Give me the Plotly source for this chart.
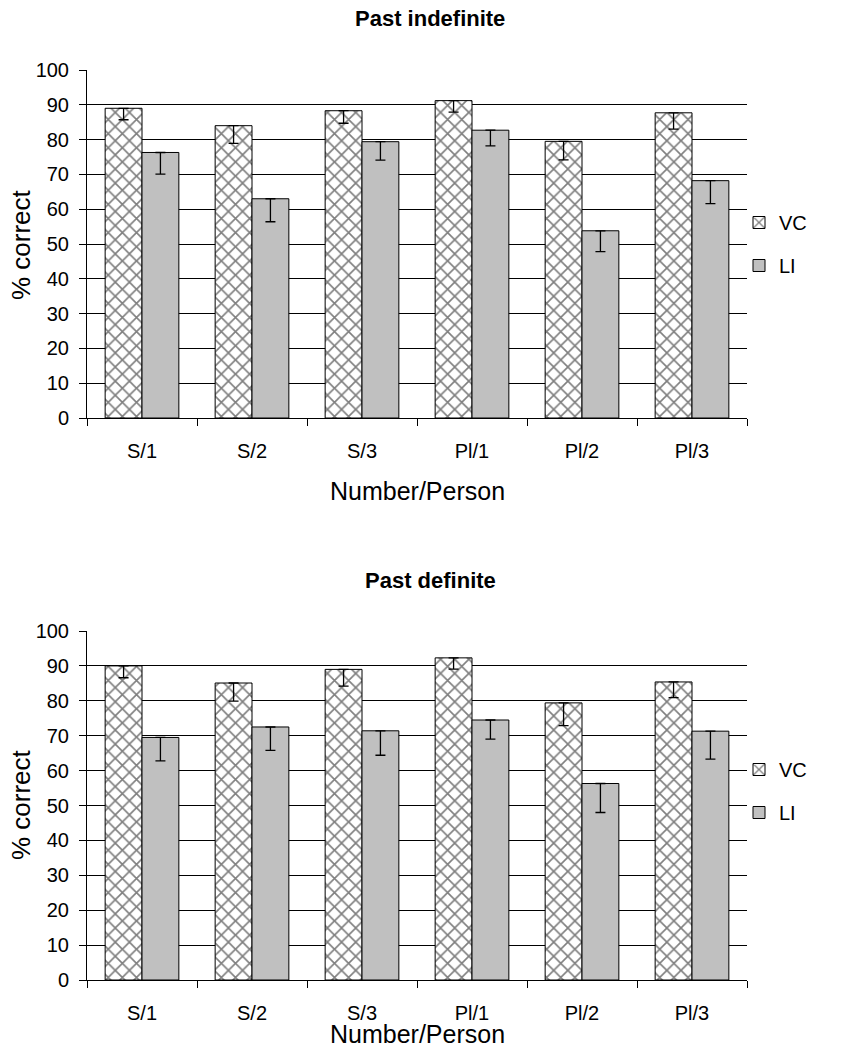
import plotly.graph_objects as go

categories = ["S/1", "S/2", "S/3", "Pl/1", "Pl/2", "Pl/3"]

# Past indefinite
indef_vc = [89.0, 84.0, 88.3, 91.2, 79.5, 87.7]
indef_vc_err = [3.3, 5.1, 3.6, 3.3, 5.3, 4.7]
indef_li = [76.3, 63.0, 79.4, 82.7, 53.8, 68.2]
indef_li_err = [6.2, 6.6, 5.3, 4.5, 6.0, 6.6]

# Past definite
def_vc = [90.0, 85.1, 89.0, 92.3, 79.4, 85.4]
def_vc_err = [3.4, 5.2, 4.8, 3.2, 6.5, 4.5]
def_li = [69.5, 72.5, 71.4, 74.5, 56.3, 71.3]
def_li_err = [6.7, 6.7, 7.0, 5.5, 8.3, 8.0]

y_ticks = list(range(0, 101, 10))

FONT = "Liberation Sans, Arial, sans-serif"

# page body has an 8px margin, so the figure is 8px smaller than the window
W, H = 847, 1042


def px(X):
    return (X - 8) / W


def py(Y):
    return 1 - (Y - 8) / H


def err(vals):
    return dict(type="data", symmetric=False, array=[0] * len(vals),
                arrayminus=vals, color="black", thickness=1.3, width=5)


fig = go.Figure()

panels = [
    ("x", "y", "legend", indef_vc, indef_vc_err, indef_li, indef_li_err),
    ("x2", "y2", "legend2", def_vc, def_vc_err, def_li, def_li_err),
]
for xa, ya, leg, vc, vc_e, li, li_e in panels:
    fig.add_trace(go.Bar(
        x=categories, y=vc, name="VC", xaxis=xa, yaxis=ya, legend=leg,
        legendgroup=leg + "vc",
        marker=dict(color="white", line=dict(color="black", width=1),
                    pattern=dict(shape="x", fgcolor="black", bgcolor="white",
                                 size=10, solidity=0.3)),
        error_y=err(vc_e)))
    fig.add_trace(go.Bar(
        x=categories, y=li, name="LI", xaxis=xa, yaxis=ya, legend=leg,
        legendgroup=leg + "li",
        marker=dict(color="#c0c0c0", line=dict(color="black", width=1)),
        error_y=err(li_e)))

xdom = [px(87), px(747)]
axis_common = dict(showline=True, linecolor="black", linewidth=1, automargin=False,
                   tickfont=dict(family=FONT, size=20, color="black"))
xaxis_style = dict(axis_common, domain=xdom, ticks="outside", tickson="boundaries",
                   ticklen=7, tickcolor="black", ticklabelstandoff=15)
yaxis_style = dict(axis_common, range=[0, 100], tickvals=y_ticks, ticks="outside",
                   ticklen=7, tickcolor="black", showgrid=True, gridcolor="black",
                   gridwidth=1, zeroline=False, ticklabelstandoff=6)

leg_style = dict(font=dict(family=FONT, size=20, color="black"), xanchor="left",
                 yanchor="middle", x=px(739), traceorder="grouped", tracegroupgap=14,
                 bgcolor="rgba(0,0,0,0)")

fig.update_layout(
    width=W, height=H,
    margin=dict(l=0, r=0, t=0, b=0),
    plot_bgcolor="white", paper_bgcolor="white",
    barmode="group", bargap=0.33, bargroupgap=0,
    xaxis=dict(xaxis_style, anchor="y"),
    yaxis=dict(yaxis_style, domain=[py(418), py(70)], anchor="x"),
    xaxis2=dict(xaxis_style, anchor="y2"),
    yaxis2=dict(yaxis_style, domain=[py(980), py(631)], anchor="x2"),
    legend=dict(leg_style, y=py(244)),
    legend2=dict(leg_style, y=py(791)),
)

# (text, x, y, angle, size, bold, yanchor) in page pixels
annots = [
    ("Past indefinite", 430, 18, 0, 22, True, "middle"),
    ("Past definite", 430, 580, 0, 22, True, "middle"),
    ("Number/Person", 417, 491, 0, 25, False, "middle"),
    ("Number/Person", 417, 1050, 0, 25, False, "bottom"),
    ("% correct", 21, 245, -90, 26, False, "middle"),
    ("% correct", 21, 805, -90, 26, False, "middle"),
]
for text, x, y, ang, size, bold, yanc in annots:
    fig.add_annotation(
        text="<b>%s</b>" % text if bold else text, x=px(x), y=py(y),
        xref="paper", yref="paper", showarrow=False, textangle=ang,
        xanchor="center", yanchor=yanc,
        font=dict(family=FONT, size=size, color="black"))

fig.write_html("out.html")
